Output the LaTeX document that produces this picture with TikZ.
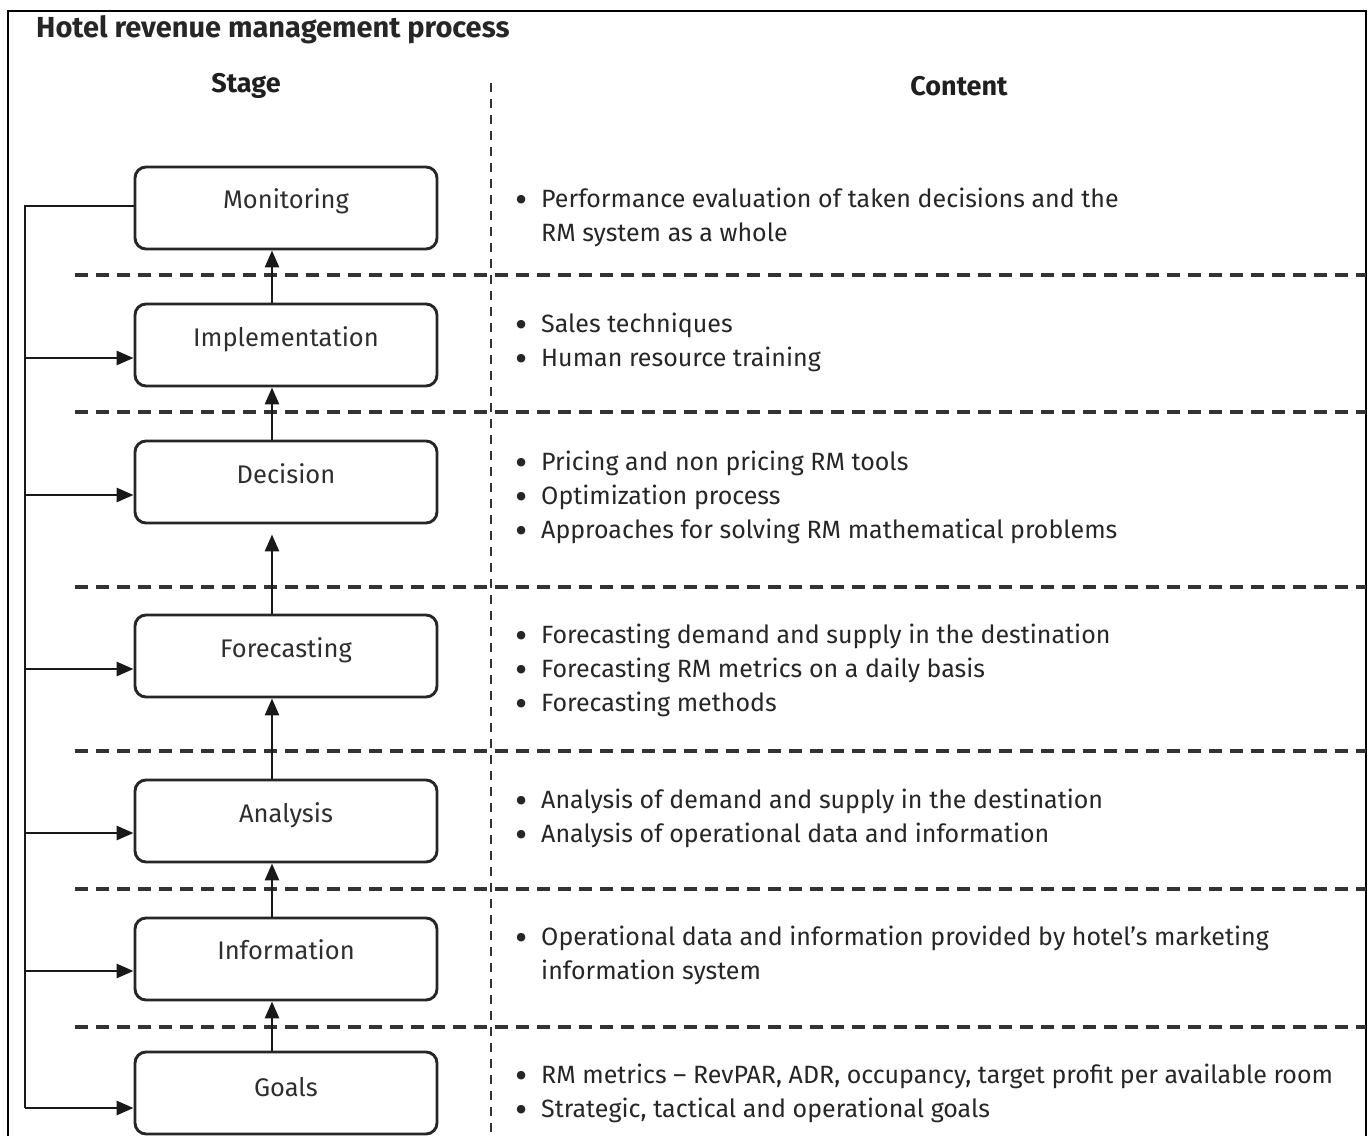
\documentclass[tikz,border=0pt]{standalone}
\usepackage{fontspec}
\setmainfont{Fira Sans}
\usetikzlibrary{arrows.meta,calc}
\newcommand{\cblock}[1]{\begin{tabular}{@{}p{26pt}@{}l@{}}#1\end{tabular}}
\newcommand{\bul}{\smash{\raisebox{-5.5pt}{\scalebox{1.5}{\textbullet}}}}
\begin{document}
\begin{tikzpicture}[x=1pt,y=-1pt,
  stagebox/.style={draw=black!85, line width=2.9pt, rounded corners=11pt, minimum width=302pt, minimum height=82pt, inner sep=0pt},
  stagelabel/.style={font=\fontsize{25.5}{28}\selectfont, text=black!82, anchor=base, inner sep=0pt},
  content/.style={font=\fontsize{25}{34}\selectfont, text=black!85, anchor=west, inner sep=0pt},
  head/.style={font=\fontsize{27}{30}\selectfont\bfseries, text=black!88, inner sep=0pt},
  hdash/.style={line width=3.2pt, black!80, dash pattern=on 13pt off 8pt},
  vdash/.style={line width=2.6pt, black!80, dash pattern=on 9pt off 7pt},
  arr/.style={line width=2.8pt, black!90, -{Triangle[length=17pt,width=14pt]}},
  fb/.style={line width=2.8pt, black!90}
]
\useasboundingbox (0,0) rectangle (1370,1135);
% frame
\draw[line width=2.6pt] (8,1140) -- (8,11) -- (1366,11) -- (1366,1140);
% title and headers
\node[anchor=west, font=\fontsize{29}{32}\selectfont\bfseries, text=black!85, inner sep=0pt] (title) at (36,30) {Hotel revenue management process};
\node[head] (hstage) at (246,86) {Stage};
\node[head] (hcontent) at (959,86) {Content};
% dashed separators
\draw[vdash] (491,83) -- (491,1140);
\foreach \yy in {275,412,587,751,889,1027}
  \draw[hdash] (75,\yy) -- (1366,\yy);
% stage boxes
\node[stagebox] (mon)   at (286,208) {};
\node[stagebox] (imp)   at (286,345) {};
\node[stagebox] (dec)   at (286,482) {};
\node[stagebox] (fore)  at (286,656) {};
\node[stagebox] (ana)   at (286,821) {};
\node[stagebox] (info)  at (286,959) {};
\node[stagebox] (goals) at (286,1093) {};
\node[stagelabel] (lmon)   at (286,208) {Monitoring};
\node[stagelabel] (limp)   at (286,346) {Implementation};
\node[stagelabel] (ldec)   at (286,483) {Decision};
\node[stagelabel] (lfore)  at (286,657) {Forecasting};
\node[stagelabel] (lana)   at (286,822) {Analysis};
\node[stagelabel] (linfo)  at (286,959) {Information};
\node[stagelabel] (lgoals) at (286,1096) {Goals};
% upward arrows
\coordinate (ax) at (272,0);
\draw[arr] (goals.north -| ax) -- (info.south -| ax);
\draw[arr] (info.north -| ax) -- (ana.south -| ax);
\draw[arr] (ana.north -| ax) -- (fore.south -| ax);
\draw[arr, shorten >=10pt] (fore.north -| ax) -- (dec.south -| ax);
\draw[arr] (dec.north -| ax) -- (imp.south -| ax);
\draw[arr] (imp.north -| ax) -- (mon.south -| ax);
% feedback loop
\coordinate (ftop)  at (25,206);
\coordinate (fimp)  at (25,358);
\coordinate (fdec)  at (25,495);
\coordinate (ffore) at (25,669);
\coordinate (fana)  at (25,833);
\coordinate (finfo) at (25,971);
\coordinate (fgoal) at (25,1108);
\draw[fb] (mon.west |- ftop) -- (ftop) -- (fgoal);
\draw[arr] (fgoal) -- (goals.west |- fgoal);
\draw[arr] (fimp) -- (imp.west |- fimp);
\draw[arr] (fdec) -- (dec.west |- fdec);
\draw[arr] (ffore) -- (fore.west |- ffore);
\draw[arr] (fana) -- (ana.west |- fana);
\draw[arr] (finfo) -- (info.west |- finfo);
% content
\node[content] (cmon) at (515,217.6) {\cblock{\bul & Performance evaluation of taken decisions and the\\ & RM system as a whole}};
\node[content] (cimp) at (515,342.6) {\cblock{\bul & Sales techniques\\ \bul & Human resource training}};
\node[content] (cdec) at (515,497.6) {\cblock{\bul & Pricing and non pricing RM tools\\ \bul & Optimization process\\ \bul & Approaches for solving RM mathematical problems}};
\node[content] (cfore) at (515,670.6) {\cblock{\bul & Forecasting demand and supply in the destination\\ \bul & Forecasting RM metrics on a daily basis\\ \bul & Forecasting methods}};
\node[content] (cana) at (515,818.6) {\cblock{\bul & Analysis of demand and supply in the destination\\ \bul & Analysis of operational data and information}};
\node[content] (cinfo) at (515,955.6) {\cblock{\bul & Operational data and information provided by hotel’s marketing\\ & information system}};
\node[content] (cgoals) at (515,1093.6) {\cblock{\bul & RM metrics – RevPAR, ADR, occupancy, target profit per available room\\ \bul & Strategic, tactical and operational goals}};
\end{tikzpicture}
\end{document}
